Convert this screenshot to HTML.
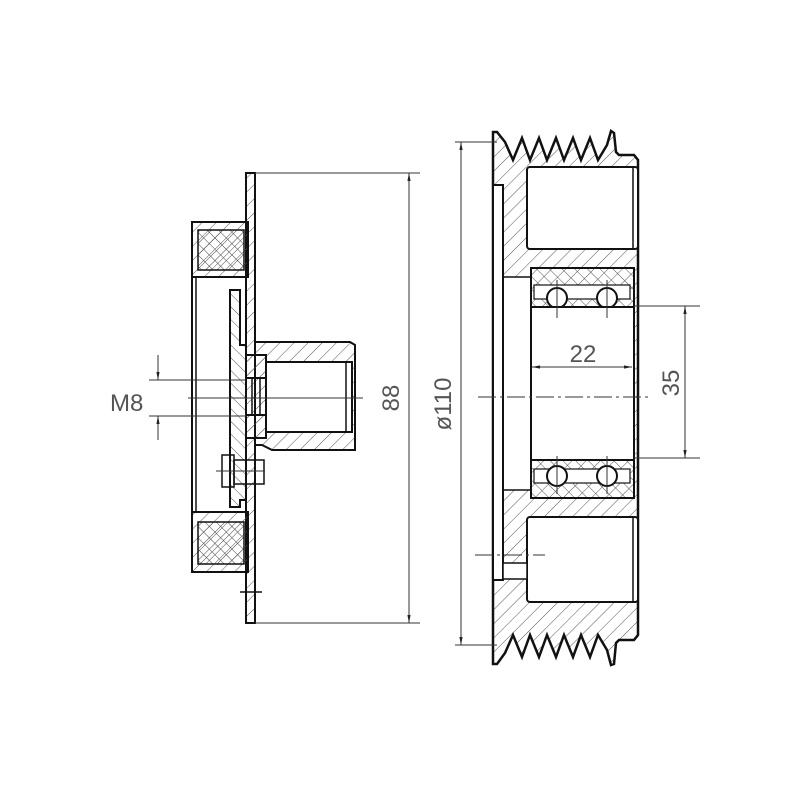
<!DOCTYPE html>
<html><head><meta charset="utf-8"><style>
html,body{margin:0;padding:0;background:#fff;}
svg{display:block;}
text{font-family:"Liberation Sans",sans-serif;fill:#555;}
</style></head><body>
<svg width="800" height="800" viewBox="0 0 800 800" xmlns="http://www.w3.org/2000/svg">
<defs>
<pattern id="h" width="10" height="10" patternUnits="userSpaceOnUse" patternTransform="rotate(45)">
<line x1="0" y1="0" x2="0" y2="10" stroke="#555" stroke-width="1"/></pattern>
<pattern id="h2" width="9" height="9" patternUnits="userSpaceOnUse" patternTransform="rotate(-45)">
<line x1="0" y1="0" x2="0" y2="9" stroke="#555" stroke-width="1"/></pattern>
<pattern id="x" width="8" height="8" patternUnits="userSpaceOnUse" patternTransform="rotate(45)">
<line x1="0" y1="0" x2="0" y2="8" stroke="#444" stroke-width="1"/><line x1="0" y1="0" x2="8" y2="0" stroke="#444" stroke-width="1"/></pattern>
<marker id="a" viewBox="0 0 10 10" refX="10" refY="5" markerWidth="8" markerHeight="8" orient="auto-start-reverse"><path d="M0,3 L10,5 L0,7z" fill="#222"/></marker>
</defs>
<g fill="none" stroke="#111" stroke-width="2">
<rect x="246" y="173" width="9" height="450" fill="url(#h)"/>
<rect x="192" y="222" width="56" height="55" fill="url(#h)"/>
<rect x="198" y="230" width="46" height="40" fill="url(#x)" stroke-width="1.5"/>
<rect x="192" y="512" width="56" height="60" fill="url(#h)"/>
<rect x="198" y="522" width="46" height="42" fill="url(#x)" stroke-width="1.5"/>
<line x1="192" y1="222" x2="192" y2="572"/>
<line x1="196" y1="277" x2="196" y2="512" stroke-width="1.5"/>
<path d="M230,290 L240,290 L240,345 L246,345 L246,500 L240,500 L240,507 L230,507 Z" fill="url(#h2)"/>
<path d="M255,342 L350,342 L355,345 L355,450 L272,450 L262,445 L255,445 Z" fill="url(#h)"/>
<rect x="266" y="362" width="86" height="70" fill="#fff"/>
<line x1="346" y1="362" x2="346" y2="432" stroke-width="1.5"/>
<rect x="246" y="355" width="20" height="23" fill="url(#h)"/>
<rect x="246" y="415" width="20" height="23" fill="url(#h)"/>
<line x1="252" y1="378" x2="252" y2="415" stroke-width="1.5"/>
<line x1="260" y1="378" x2="260" y2="415" stroke-width="1.5"/>
<rect x="222" y="455" width="12" height="32" stroke-width="1.5"/>
<rect x="234" y="460" width="30" height="24" stroke-width="1.5"/>
<line x1="246" y1="460" x2="246" y2="500" stroke-width="1.5"/>
<line x1="240" y1="592" x2="262" y2="592" stroke-width="1.5"/>
<!-- RIGHT VIEW -->
<path d="M493,132 L497,132 L505,142 L513,160 L522,138 L530,160 L539,138 L547,160 L556,138 L564,160 L573,138 L581,160 L590,138 L598,160 L607,145 L611,131 L614,133 L616,152 L619,155 L634,155 L638,160 L638,635 L634,640 L619,640 L616,643 L614,664 L611,665 L607,650 L598,635 L590,657 L581,635 L573,657 L564,635 L556,657 L547,635 L539,657 L530,635 L522,657 L513,635 L505,653 L497,664 L493,664 Z" fill="url(#h)" stroke-width="2.5"/>
<rect x="527" y="167" width="111" height="82" rx="3" fill="#fff"/>
<rect x="527" y="517" width="111" height="85" rx="3" fill="#fff"/>
<line x1="633" y1="167" x2="633" y2="249" stroke-width="1.5"/>
<line x1="633" y1="517" x2="633" y2="602" stroke-width="1.5"/>
<rect x="503" y="277" width="28" height="213" fill="#fff" stroke-width="1.5"/>
<rect x="531" y="268" width="103" height="39" fill="url(#h2)"/>
<rect x="531" y="460" width="103" height="38" fill="url(#h2)"/>
<rect x="534" y="285" width="96" height="14" fill="#fff" stroke-width="1.2"/>
<rect x="534" y="469" width="96" height="14" fill="#fff" stroke-width="1.2"/>
<circle cx="557" cy="298" r="10" fill="#fff"/><circle cx="607" cy="298" r="10" fill="#fff"/>
<circle cx="557" cy="476" r="10" fill="#fff"/><circle cx="607" cy="476" r="10" fill="#fff"/>
<rect x="531" y="307" width="103" height="153" fill="#fff"/>
<line x1="638" y1="268" x2="638" y2="498" stroke-width="1.5"/>
<rect x="493" y="185" width="10" height="395" fill="#fff"/>
<rect x="503" y="563" width="24" height="16" fill="#fff" stroke-width="1.5"/>
</g>
<g stroke="#333" stroke-width="1" fill="none">
<line x1="255" y1="173" x2="420" y2="173"/><line x1="255" y1="623" x2="420" y2="623"/>
<line x1="409" y1="173" x2="409" y2="623" marker-start="url(#a)" marker-end="url(#a)"/>
<line x1="149" y1="380" x2="246" y2="380"/><line x1="149" y1="416" x2="246" y2="416"/>
<line x1="158" y1="355" x2="158" y2="380" marker-end="url(#a)"/>
<line x1="158" y1="440" x2="158" y2="416" marker-end="url(#a)"/>
<line x1="188" y1="398" x2="363" y2="398"/>
<line x1="216" y1="471" x2="265" y2="471"/>
<line x1="455" y1="142" x2="497" y2="142"/><line x1="455" y1="645" x2="497" y2="645"/>
<line x1="461" y1="142" x2="461" y2="645" marker-start="url(#a)" marker-end="url(#a)"/>
<line x1="532" y1="367" x2="632" y2="367" marker-start="url(#a)" marker-end="url(#a)"/>
<line x1="634" y1="306" x2="700" y2="306"/><line x1="634" y1="458" x2="700" y2="458"/>
<line x1="685" y1="306" x2="685" y2="458" marker-start="url(#a)" marker-end="url(#a)"/>
<line x1="478" y1="397" x2="650" y2="397" stroke-dasharray="18,4,3,4"/>
<line x1="475" y1="555" x2="545" y2="555" stroke-dasharray="18,4,3,4"/>
<line x1="557" y1="280" x2="557" y2="318"/><line x1="607" y1="280" x2="607" y2="318"/>
<line x1="557" y1="456" x2="557" y2="494"/><line x1="607" y1="456" x2="607" y2="494"/>
</g>
<text x="110" y="411" font-size="24">M8</text>
<text transform="translate(399,398) rotate(-90)" text-anchor="middle" font-size="24">88</text>
<text transform="translate(451,404) rotate(-90)" text-anchor="middle" font-size="24">ø110</text>
<text x="583" y="362" text-anchor="middle" font-size="24">22</text>
<text transform="translate(679,383) rotate(-90)" text-anchor="middle" font-size="24">35</text>
</svg>
</body></html>
